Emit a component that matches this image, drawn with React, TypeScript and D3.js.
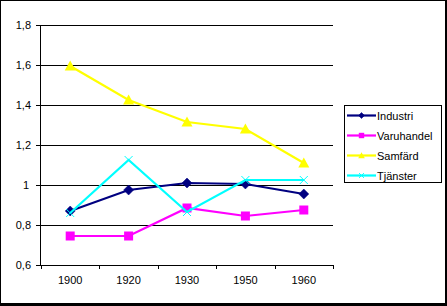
import React from "react";
import * as d3 from "d3";

const categories = ["1900", "1920", "1930", "1950", "1960"];
const industri = [0.87, 0.975, 1.01, 1.005, 0.955];
const varuhandel = [0.745, 0.745, 0.885, 0.845, 0.875];
const samfard = [1.595, 1.425, 1.315, 1.28, 1.11];
const tjanster = [0.86, 1.125, 0.865, 1.025, 1.025];
const yTicks = [0.6, 0.8, 1.0, 1.2, 1.4, 1.6, 1.8];

const series = [
  { name: "Industri", values: industri, color: "#000080", marker: "diamond" },
  { name: "Varuhandel", values: varuhandel, color: "#FF00FF", marker: "square" },
  { name: "Samfärd", values: samfard, color: "#FFFF00", marker: "triangle" },
  { name: "Tjänster", values: tjanster, color: "#00FFFF", marker: "x" },
];

const W = 447, H = 306;
const left = 41, right = 333, top = 25, bottom = 265;

function Marker({ type, x, y, color, s = 1 }: any) {
  if (type === "diamond") {
    const r = 5 * s;
    return <path d={`M${x},${y - r}L${x + r},${y}L${x},${y + r}L${x - r},${y}Z`} fill={color} stroke={color} strokeWidth={0.5} />;
  }
  if (type === "square") {
    const r = 4.5 * s;
    return <rect x={x - r} y={y - r} width={2 * r} height={2 * r} fill={color} />;
  }
  if (type === "triangle") {
    const r = 5.5 * s;
    return <path d={`M${x},${y - r}L${x + r},${y + r * 0.8}L${x - r},${y + r * 0.8}Z`} fill={color} />;
  }
  const r = 4 * s;
  return <path d={`M${x - r},${y - r}L${x + r},${y + r}M${x - r},${y + r}L${x + r},${y - r}`} stroke={color} strokeWidth={1} />;
}

export default function App() {
  const x = d3.scaleBand().domain(categories).range([left, right]);
  const y = d3.scaleLinear().domain([0.6, 1.8]).range([bottom, top]);
  const line = d3.line<number>()
    .x((_, i) => (x(categories[i]) as number) + x.bandwidth() / 2)
    .y((d) => y(d));
  const font = "'Liberation Sans', Arial, sans-serif";
  const tickEdges = categories.map((c) => x(c) as number).concat([right]);

  return (
    <svg width={W} height={H} style={{ position: "absolute", left: 0, top: 0 }} fontFamily={font}>
      <rect x={0} y={0} width={W} height={H} fill="#fff" />
      <rect x={0.5} y={0.5} width={W - 2} height={H - 3} fill="none" stroke="#000" strokeWidth={1} />
      <rect x={W - 2} y={0} width={2} height={H} fill="#000" />
      <rect x={0} y={H - 2} width={W} height={2} fill="#000" />
      {yTicks.map((t) => (
        <g key={t}>
          {t > 0.6 && <line x1={left} x2={right} y1={Math.round(y(t)) + 0.5} y2={Math.round(y(t)) + 0.5} stroke="#000" />}
          <line x1={left - 5} x2={left} y1={Math.round(y(t)) + 0.5} y2={Math.round(y(t)) + 0.5} stroke="#000" />
          <text x={t === 1 ? 29 : 31} y={y(t) + 4} textAnchor="end" fontSize={11}>{(t === 1 ? "1" : t.toFixed(1)).replace(".", ",")}</text>
        </g>
      ))}
      <line x1={left - 0.5} x2={left - 0.5} y1={top} y2={bottom} stroke="#000" />
      <line x1={left} x2={right} y1={bottom + 0.5} y2={bottom + 0.5} stroke="#000" />
      {tickEdges.map((e, i) => (
        <line key={i} x1={Math.round(e) + 0.5} x2={Math.round(e) + 0.5} y1={bottom} y2={bottom + 4} stroke="#000" />
      ))}
      {categories.map((c) => (
        <text key={c} x={(x(c) as number) + x.bandwidth() / 2} y={284} textAnchor="middle" fontSize={11}>{c}</text>
      ))}
      {series.map((s) => (
        <g key={s.name}>
          <path d={line(s.values) as string} fill="none" stroke={s.color} strokeWidth={2.2} />
          {s.values.map((v, i) => (
            <Marker key={i} type={s.marker} x={(x(categories[i]) as number) + x.bandwidth() / 2} y={y(v)} color={s.color} />
          ))}
        </g>
      ))}
      <rect x={344.5} y={105.5} width={97} height={77} fill="#fff" stroke="#000" />
      {series.map((s, i) => {
        const ly = 115.5 + i * 20;
        return (
          <g key={s.name}>
            <line x1={347} x2={376} y1={ly} y2={ly} stroke={s.color} strokeWidth={2.2} />
            <Marker type={s.marker} x={361.5} y={ly} color={s.color} s={0.6} />
            <text x={377} y={ly + 4} fontSize={11}>{s.name}</text>
          </g>
        );
      })}
    </svg>
  );
}
